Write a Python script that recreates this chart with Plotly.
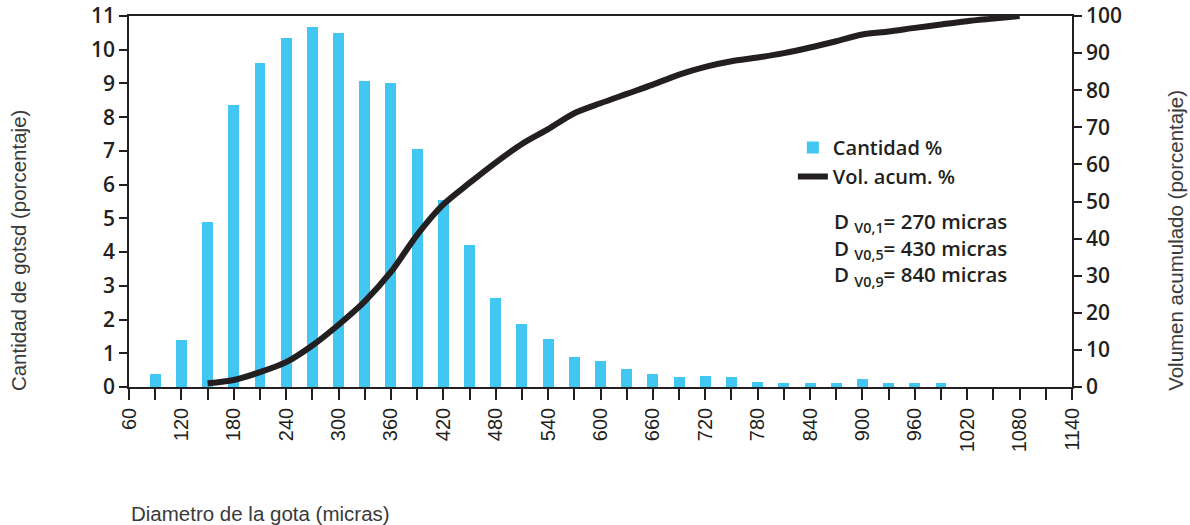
import plotly.graph_objects as go

# Droplet size classes (microns) and share of droplets per class (%)
diam_bars = [90, 120, 150, 180, 210, 240, 270, 300, 330, 360, 390, 420, 450,
             480, 510, 540, 570, 600, 630, 660, 690, 720, 750, 780, 810, 840,
             870, 900, 930, 960, 990]
cantidad = [0.4, 1.4, 4.9, 8.35, 9.62, 10.35, 10.68, 10.5, 9.08, 9.02, 7.05,
            5.55, 4.2, 2.65, 1.87, 1.42, 0.9, 0.78, 0.54, 0.4, 0.3, 0.33, 0.3,
            0.15, 0.11, 0.11, 0.11, 0.24, 0.11, 0.11, 0.11]

# Cumulative volume curve (%)
diam_line = [150, 180, 210, 240, 270, 300, 330, 360, 390, 420, 450, 480, 510,
             540, 570, 600, 630, 660, 690, 720, 750, 780, 810, 840, 870, 900,
             930, 960, 990, 1020, 1050, 1080]
vol_acum = [1.0, 1.9, 4.0, 6.7, 11.2, 16.8, 23.1, 31.0, 41.0, 49.2, 55.0,
            60.5, 65.5, 69.5, 73.8, 76.5, 79.0, 81.5, 84.2, 86.3, 87.8, 88.8,
            90.0, 91.5, 93.2, 95.0, 95.8, 96.8, 97.7, 98.6, 99.3, 100.0]

# x-axis ticks every 30 microns, labelled every 60
x_ticks = list(range(60, 1141, 30))
x_labels = [str(v) if v % 60 == 0 else "" for v in x_ticks]

left_ticks = list(range(0, 12))
right_ticks = list(range(0, 101, 10))

dv_lines = ["D <sub>V0,1</sub>= 270 micras",
            "D <sub>V0,5</sub>= 430 micras",
            "D <sub>V0,9</sub>= 840 micras"]

INK = "#231f20"
BLUE = "#42c7f3"
TICK_FONT = dict(family="Open Sans", size=21, color=INK, weight=600)
KEY_FONT = dict(family="Open Sans", size=20, color=INK, weight=600)
DV_FONT = dict(family="Open Sans", size=20.5, color=INK, weight=600)

fig = go.Figure()
fig.add_trace(go.Bar(
    x=diam_bars, y=cantidad, name="Cantidad %",
    marker=dict(color=BLUE, line=dict(width=0)), width=12.5,
    yaxis="y",
))
fig.add_trace(go.Scatter(
    x=diam_line, y=vol_acum, name="Vol. acum. %", mode="lines",
    line=dict(color=INK, width=6, shape="spline", smoothing=0.8),
    yaxis="y2",
))

fig.update_layout(
    width=1190, height=525,
    margin=dict(l=129, r=118, t=16, b=138, autoexpand=False),
    paper_bgcolor="white", plot_bgcolor="white",
    showlegend=True,
    legend=dict(
        x=0.704, y=0.698, xanchor="left", yanchor="top",
        font=KEY_FONT, bgcolor="rgba(0,0,0,0)", itemwidth=30,
        tracegroupgap=0, traceorder="normal",
    ),
    xaxis=dict(
        range=[60, 1140], tickmode="array", tickvals=x_ticks,
        ticktext=x_labels, tickangle=-90, automargin=False,
        ticks="outside", ticklen=11, tickwidth=1.5, tickcolor=INK,
        showline=True, linecolor=INK, linewidth=1.5, mirror=True,
        showgrid=False, zeroline=False,
        tickfont=dict(family="Liberation Sans", size=20, color=INK),
    ),
    yaxis=dict(
        range=[0, 11], tickmode="array", tickvals=left_ticks,
        ticks="outside", ticklen=8, tickwidth=1.5, tickcolor=INK,
        showline=True, linecolor=INK, linewidth=1.5, automargin=False,
        showgrid=False, zeroline=False, tickfont=TICK_FONT,
    ),
    yaxis2=dict(
        range=[0, 100], tickmode="array", tickvals=right_ticks,
        overlaying="y", side="right", automargin=False,
        ticks="outside", ticklen=8, tickwidth=1.5, tickcolor=INK,
        showline=True, linecolor=INK, linewidth=1.5,
        showgrid=False, zeroline=False, tickfont=TICK_FONT,
    ),
    bargap=0,
)

title_font = dict(family="Liberation Sans", size=20.5, color="#3a3a3a")
annotations = [
    dict(text="Cantidad de gotsd (porcentaje)", textangle=-90,
         xref="paper", yref="paper", x=-0.1177, y=0.369,
         xanchor="center", yanchor="middle", showarrow=False,
         font=title_font),
    dict(text="Volumen acumulado (porcentaje)", textangle=-90,
         xref="paper", yref="paper", x=1.109, y=0.396,
         xanchor="center", yanchor="middle", showarrow=False,
         font=title_font),
    dict(text="Diametro de la gota (micras)",
         xref="paper", yref="paper", x=0.0, y=-0.341,
         xanchor="left", yanchor="middle", showarrow=False,
         font=title_font),
    # Volume median diameters, one block of three lines
    dict(text="<br>".join(dv_lines), xref="paper", yref="paper",
         x=0.745, y=0.373, xanchor="left", yanchor="middle", align="left",
         showarrow=False, font=DV_FONT),
]
fig.update_layout(annotations=annotations)

fig.write_html("out.html")
